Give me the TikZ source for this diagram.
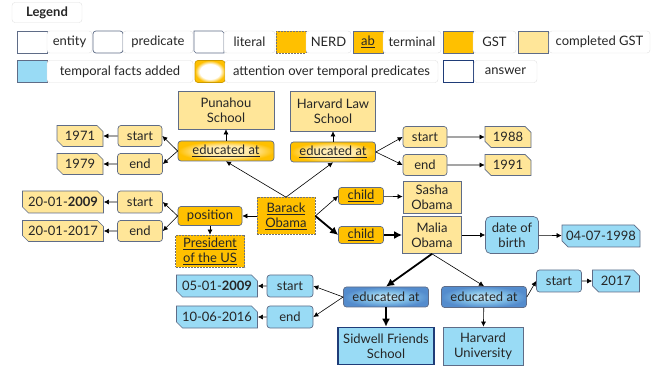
\documentclass[tikz,border=0pt]{standalone}
\usepackage{fontspec}
\setmainfont{Lato}
\usetikzlibrary{shapes.misc,arrows.meta}
\definecolor{gst}{RGB}{255,192,0}
\definecolor{cgst}{RGB}{255,230,153}
\definecolor{tmp}{RGB}{153,219,245}
\definecolor{bord}{RGB}{95,108,135}
\definecolor{ans}{RGB}{31,60,120}
\definecolor{attb}{RGB}{84,140,205}
\pgfdeclareradialshading{glowg}{\pgfpoint{0bp}{0bp}}{color(0bp)=(gst!25); color(14bp)=(gst!35); color(25bp)=(gst); color(50bp)=(gst)}
\pgfdeclareradialshading{glowb}{\pgfpoint{0bp}{0bp}}{color(0bp)=(tmp!45); color(14bp)=(tmp!60!attb); color(25bp)=(attb); color(50bp)=(attb)}
\pgfdeclareradialshading{gloww}{\pgfpoint{0bp}{0bp}}{color(0bp)=(white); color(17bp)=(white); color(25bp)=(gst); color(50bp)=(gst)}
\newcommand{\term}[1]{\underline{#1}}
\begin{document}
\begin{tikzpicture}[x=1pt, y=-1pt, font=\fontsize{13}{15}\selectfont, text=black!85,
		box/.style={draw=bord, line width=0.7pt, inner sep=1pt, align=center},
		ent/.style={box, rectangle},
		pred/.style={box, rounded corners=3pt},
		lit/.style={box, chamfered rectangle, chamfered rectangle corners={north east,south west},
			chamfered rectangle xsep=3pt, chamfered rectangle ysep=3pt},
		nerd/.style={dash pattern=on 2pt off 1pt, draw=black!55},
		attg/.style={shading=glowg},
		attbl/.style={shading=glowb},
		lab/.style={draw=black!12, rounded corners=3pt, fill=white, minimum height=22pt},
		sw/.style={minimum width=30pt, minimum height=22pt},
		edge/.style={-{Latex[length=5pt,width=5pt]}, line width=0.6pt},
		thk/.style={-{Latex[length=8pt,width=8pt]}, line width=1.8pt}
		]
	\useasboundingbox (0,0) rectangle (651,366);
	% legend
	\node [lab, minimum width=70pt, minimum height=20pt] (leg) at (47,12.5) {\textbf{Legend}};
	\node [ent, sw, fill=white] (lent) at (32,42) {};
	\node [lab, minimum width=45pt] (lentt) at (69.5,42) {entity};
	\node [pred, sw, fill=white] (lpred) at (108,42) {};
	\node [lab, minimum width=70pt] (lpredt) at (158,42) {predicate};
	\node [lit, sw, fill=white] (llit) at (209,42) {};
	\node [lab, minimum width=51pt] (llitt) at (249.5,42) {literal};
	\node [ent, sw, fill=gst, nerd] (lnerd) at (291,42) {};
	\node [lab, minimum width=45pt] (lnerdt) at (328.5,42) {NERD};
	\node [ent, sw, fill=gst] (lterm) at (368,42) {\term{ab}};
	\node [lab, minimum width=58pt] (ltermt) at (412,42) {terminal};
	\node [ent, sw, fill=gst] (lgst) at (458,42) {};
	\node [lab, minimum width=43pt] (lgstt) at (494.5,42) {GST};
	\node [ent, sw, fill=cgst] (lcgst) at (533,42) {};
	\node [lab, minimum width=101pt] (lcgstt) at (599.5,42) {completed GST};
	\node [ent, sw, fill=tmp] (ltmp) at (32,71.5) {};
	\node [lab, minimum width=146pt] (ltmpt) at (120,71.5) {temporal facts added};
	\node [pred, sw, draw=gst!80!black, shading=gloww] (latt) at (210,71.5) {};
	\node [lab, minimum width=213pt] (lattt) at (331.5,71.5) {attention over temporal predicates};
	\node [ent, sw, fill=white, draw=ans, line width=1.6pt] (lans) at (458.5,71.5) {};
	\node [lab, minimum width=63pt] (lanst) at (505.5,71.5) {answer};
	% graph
	\node [ent, fill=gst, nerd, minimum width=58pt, minimum height=37pt] (bo) at (286,216) {\term{Barack}\\\term{Obama}};
	\node [ent, fill=cgst, minimum width=96pt, minimum height=38pt] (pun) at (226,110) {Punahou\\School};
	\node [ent, fill=cgst, minimum width=85pt, minimum height=40pt] (hls) at (333,111) {Harvard Law\\School};
	\node [pred, attg, minimum width=96pt, minimum height=20pt] (ed1) at (226,151) {\term{educated at}};
	\node [pred, attg, minimum width=85pt, minimum height=20pt] (ed2) at (333,152) {\term{educated at}};
	\node [pred, fill=cgst, minimum width=44pt, minimum height=21pt] (s1) at (140,136) {start};
	\node [pred, fill=cgst, minimum width=45pt, minimum height=21pt] (e1) at (140,164) {end};
	\node [lit, fill=cgst, minimum width=46pt, minimum height=21pt] (y71) at (80,136) {1971};
	\node [lit, fill=cgst, minimum width=46pt, minimum height=21pt] (y79) at (80,164) {1979};
	\node [pred, fill=cgst, minimum width=44pt, minimum height=21pt] (s2) at (425,137) {start};
	\node [pred, fill=cgst, minimum width=44pt, minimum height=21pt] (e2) at (425,165) {end};
	\node [lit, fill=cgst, minimum width=46pt, minimum height=21pt] (y88) at (508,137) {1988};
	\node [lit, fill=cgst, minimum width=46pt, minimum height=21pt] (y91) at (508,165) {1991};
	\node [pred, fill=gst, minimum width=64pt, minimum height=19pt] (pos) at (210,216) {position};
	\node [ent, fill=gst, nerd, minimum width=69pt, minimum height=32pt] (pres) at (210,251) {\term{President}\\\term{of the US}};
	\node [pred, fill=cgst, minimum width=45pt, minimum height=22pt] (s3) at (140,202) {start};
	\node [pred, fill=cgst, minimum width=45pt, minimum height=21pt] (e3) at (140,231) {end};
	\node [lit, fill=cgst, minimum width=81pt, minimum height=22pt] (d09) at (63,202) {20-01-\textbf{2009}};
	\node [lit, fill=cgst, minimum width=81pt, minimum height=21pt] (d17) at (63,231) {20-01-2017};
	\node [pred, fill=gst, minimum width=45pt, minimum height=17pt] (ch1) at (361,196) {\term{child}};
	\node [ent, fill=cgst, minimum width=58pt, minimum height=32pt] (sa) at (432,197) {Sasha\\Obama};
	\node [pred, fill=gst, minimum width=45pt, minimum height=17pt] (ch2) at (361,235) {\term{child}};
	\node [ent, fill=cgst, minimum width=59pt, minimum height=37pt] (ma) at (432,235) {Malia\\Obama};
	\node [pred, fill=tmp, rounded corners=5pt, minimum width=53pt, minimum height=37pt] (dob) at (512,235) {date of\\birth};
	\node [lit, fill=tmp, minimum width=78pt, minimum height=22pt] (d98) at (601,236) {04-07-1998};
	\node [pred, attbl, minimum width=85pt, minimum height=20pt] (ed3) at (386,297) {educated at};
	\node [pred, attbl, minimum width=85pt, minimum height=21pt] (ed4) at (484,297) {educated at};
	\node [ent, fill=tmp, draw=ans, line width=1.6pt, minimum width=96pt, minimum height=37pt] (sid) at (386,346) {Sidwell Friends\\School};
	\node [ent, fill=tmp, minimum width=80pt, minimum height=38pt] (hu) at (483,346) {Harvard\\University};
	\node [pred, fill=tmp, minimum width=46pt, minimum height=22pt] (s4) at (290,286) {start};
	\node [pred, fill=tmp, minimum width=46pt, minimum height=22pt] (e4) at (290,317) {end};
	\node [lit, fill=tmp, minimum width=81pt, minimum height=22pt] (d0509) at (217,286) {05-01-\textbf{2009}};
	\node [lit, fill=tmp, minimum width=81pt, minimum height=22pt] (d1006) at (217,317) {10-06-2016};
	\node [pred, fill=tmp, minimum width=45pt, minimum height=22pt] (s5) at (559,281) {start};
	\node [lit, fill=tmp, minimum width=47pt, minimum height=22pt] (y17) at (616,281) {2017};
	% connectors
	\draw [edge] (bo.north) -- (ed1.south);
	\draw [edge] (bo.north) -- (ed2.south);
	\draw [edge] (ed1) -- (pun);
	\draw [edge] (ed1.west) -- (s1.east);
	\draw [edge] (ed1.west) -- (e1.east);
	\draw [edge] (s1) -- (y71);
	\draw [edge] (e1) -- (y79);
	\draw [edge] (ed2) -- (hls);
	\draw [edge] (ed2.east) -- (s2.west);
	\draw [edge] (ed2.east) -- (e2.west);
	\draw [edge] (s2) -- (y88);
	\draw [edge] (e2) -- (y91);
	\draw [edge] (bo) -- (pos);
	\draw [edge] (pos) -- (pres);
	\draw [edge] (pos.west) -- (s3.east);
	\draw [edge] (pos.west) -- (e3.east);
	\draw [edge] (s3) -- (d09);
	\draw [edge] (e3) -- (d17);
	\draw [edge] (bo.east) -- (ch1.west);
	\draw [edge] (ch1) -- (sa);
	\draw [thk] (bo.east) -- (ch2.west);
	\draw [thk] (ch2) -- (ma);
	\draw [edge] (ma) -- (dob);
	\draw [edge] (dob) -- (d98);
	\draw [thk] (ma.south) -- (ed3.north);
	\draw [edge] (ma.south) -- (ed4.north);
	\draw [thk] (ed3) -- (sid);
	\draw [edge] (ed3.west) -- (s4.east);
	\draw [edge] (ed3.west) -- (e4.east);
	\draw [edge] (s4) -- (d0509);
	\draw [edge] (e4) -- (d1006);
	\draw [edge] (ed4) -- (hu);
	\draw [edge] (ed4.east) -- (s5.west);
	\draw [edge] (s5) -- (y17);
\end{tikzpicture}
\end{document}
